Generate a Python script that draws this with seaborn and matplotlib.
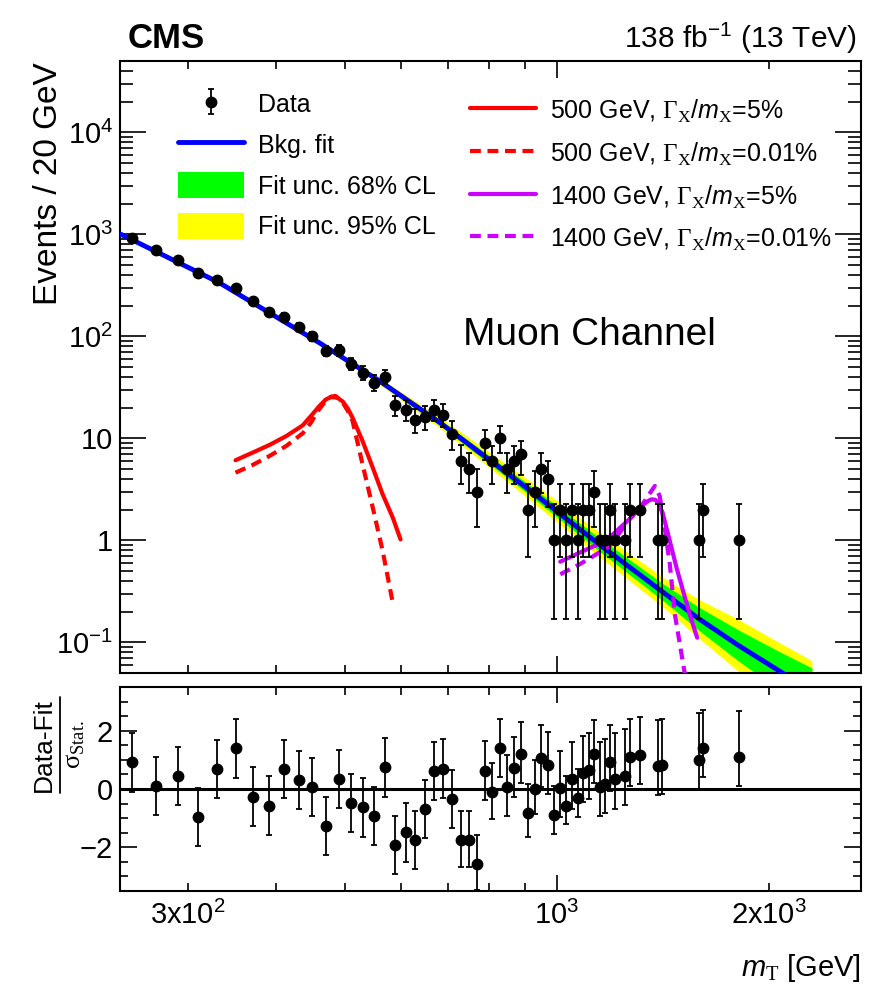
import numpy as np
import matplotlib
matplotlib.use("Agg")
import matplotlib.pyplot as plt
import seaborn as sns
from matplotlib.ticker import FixedLocator, FuncFormatter, LogLocator, MultipleLocator, NullFormatter
from matplotlib.patches import Patch
from matplotlib.lines import Line2D

# ---------------- data ----------------
mt = [250, 270, 290, 310, 330, 350, 370, 390, 410, 430, 450, 470, 490, 510, 530, 550, 570, 590, 610,
      630, 650, 670, 690, 710, 730, 750, 770, 790, 810, 830, 850, 870, 890, 910, 930, 950, 970, 990,
      1010, 1030, 1050, 1070, 1090, 1110, 1130, 1150, 1170, 1190, 1210,
      1250, 1270, 1310, 1390, 1410, 1590, 1610, 1810]
counts = [930, 700, 555, 420, 355, 300, 220, 173, 155, 123, 100, 72, 73, 54, 44, 35, 40, 21, 19,
          15, 16, 19, 17, 11, 6, 5, 3, 9, 6, 10, 5, 6, 7, 2, 3, 5, 4, 1,
          2, 1, 2, 1, 2, 2, 3, 1, 1, 2, 1,
          1, 2, 2, 1, 1, 1, 2, 1]
err_lo = [30, 26, 24, 20, 19, 17, 15, 13, 12, 11, 10, 8.5, 8.5, 7.3, 6.6, 5.9, 6.3, 4.5, 4.3,
          3.8, 4.0, 4.3, 4.1, 3.3, 2.4, 2.1, 1.65, 2.9, 2.4, 2.8, 2.1, 2.4, 2.6, 1.31, 1.65, 2.1, 1.9, 0.83,
          1.31, 0.83, 1.31, 0.83, 1.31, 1.31, 1.65, 0.83, 0.83, 1.31, 0.83,
          0.83, 1.31, 1.31, 0.83, 0.83, 0.83, 1.31, 0.83]
err_hi = [30, 27, 24, 21, 19, 18, 15, 14, 13, 12, 11, 9, 9, 7.8, 7.1, 6.4, 6.8, 5.0, 4.8,
          4.3, 4.5, 4.8, 4.6, 3.8, 2.5, 2.2, 1.95, 3.0, 2.4, 3.1, 2.2, 2.4, 2.5, 1.55, 1.8, 2.2, 2.0, 1.25,
          1.55, 1.25, 1.55, 1.25, 1.55, 1.55, 1.8, 1.25, 1.25, 1.55, 1.25,
          1.25, 1.55, 1.55, 1.25, 1.25, 1.25, 1.55, 1.25]

pull = [0.91, 0.10, 0.45, -0.95, 0.68, 1.39, -0.26, -0.57, 0.68, 0.30, 0.08, -1.26, 0.34, -0.47, -0.63,
        -0.92, 0.74, -1.91, -1.49, -1.76, -0.69, 0.62, 0.70, -0.35, -1.76, -1.76, -2.59, 0.63, -0.11,
        1.40, 0.06, 0.71, 1.21, -0.84, -0.01, 1.06, 0.83, -0.90,
        0.05, -0.57, 0.33, -0.32, 0.54, 0.66, 1.21, 0.06, 0.17, 0.94, 0.33,
        0.46, 1.11, 1.17, 0.79, 0.83, 1.00, 1.42, 1.09]
pull_lo = [1] * 24 + [0.92, 0.92, 0.87, 1, 0.92, 1, 1, 1, 1, 0.80, 0.86, 1, 1, 0.63,
                      1, 0.64, 1, 0.63, 1, 1, 1, 1, 1, 1, 1,
                      1, 1, 1, 1, 1, 1, 1, 1]
pull_hi = [1] * 30 + [1.11, 1.09, 1.08, 1, 1, 1.13, 1.13, 1,
                      1.26, 1, 1.28, 1, 1.29, 1.26, 1.17, 1.55, 1.55, 1.26, 1.59,
                      1.60, 1.29, 1.29, 1.59, 1.58, 1.61, 1.28, 1.60]

# background fit and its uncertainty bands (multiplicative half-widths)
fit_m = [240, 332, 460, 560, 681, 915, 1137, 1414, 1590, 1810, 2071, 2300]
fit_v = [1010, 335, 86.6, 36.5, 14.4, 3.1, 0.96, 0.31, 0.17, 0.093, 0.052, 0.033]
band68 = [1.01, 1.02, 1.03, 1.05, 1.07, 1.12, 1.16, 1.21, 1.30, 1.42, 1.55, 1.70]
band95 = [1.02, 1.03, 1.05, 1.08, 1.13, 1.24, 1.32, 1.40, 1.55, 1.80, 1.90, 2.00]

# signal shapes
s500w_m = [350, 370, 391, 413, 436, 448, 460, 470, 478, 488, 497, 505, 513, 530, 548, 566, 585, 600]
s500w_v = [6.09, 7.23, 8.60, 10.5, 13.4, 16.6, 20.6, 24.0, 25.4, 25.0, 22.9, 19.6, 15.9, 9.41, 5.15,
           2.82, 1.67, 1.02]
s500n_m = [350, 370, 391, 413, 436, 448, 458, 470, 478, 485, 495, 505, 513, 530, 548, 566, 585]
s500n_v = [4.6, 5.47, 6.7, 8.4, 11.2, 14.3, 18.5, 23.3, 25.6, 26.0, 23.4, 18.6, 14.8, 5.56, 2.09,
           0.785, 0.244]
s1400w_m = [1011, 1077, 1138, 1201, 1268, 1300, 1325, 1345, 1362, 1378, 1392, 1414, 1446, 1478, 1510,
            1543, 1581]
s1400w_v = [0.617, 0.756, 0.90, 1.145, 1.62, 1.95, 2.22, 2.42, 2.52, 2.50, 2.34, 1.80, 0.984, 0.539,
            0.318, 0.188, 0.111]
s1400n_m = [1011, 1077, 1138, 1188, 1268, 1325, 1355, 1377, 1399, 1422, 1446, 1470, 1519]
s1400n_v = [0.464, 0.582, 0.73, 0.879, 1.60, 2.30, 2.90, 3.41, 2.72, 1.33, 0.582, 0.188, 0.0485]

# ---------------- style ----------------
sns.set_theme(style="ticks")
plt.rcParams.update({
    "font.family": ["Liberation Sans", "DejaVu Sans"],
    "mathtext.fontset": "custom",
    "mathtext.rm": "Liberation Serif",
    "mathtext.it": "Liberation Sans:italic",
    "mathtext.bf": "Liberation Sans:bold",
    "mathtext.default": "regular",
    "axes.linewidth": 1.5,
    "axes.edgecolor": "black",
    "xtick.direction": "in",
    "ytick.direction": "in",
    "xtick.top": True,
    "ytick.right": True,
    "xtick.color": "black",
    "ytick.color": "black",
    "text.color": "black",
    "axes.labelcolor": "black",
})

W, H = 876, 991
fig = plt.figure(figsize=(W / 100, H / 100), dpi=100)
ax = fig.add_axes([120 / W, 1 - 673 / H, 741 / W, 612 / H])
ax2 = fig.add_axes([120 / W, 1 - 891 / H, 741 / W, 204 / H])

BLUE, GREEN, YELLOW = "#0000ff", "#00ff00", "#ffff00"
RED, VIOL = "#ff0000", "#cc00ff"

for a in (ax, ax2):
    a.set_xscale("log")
    a.set_xlim(240, 2700)
ax.set_yscale("log")
ax.set_ylim(0.05, 5e4)
ax2.set_ylim(-3.5, 3.5)

# ---------------- top panel ----------------
fm = np.array(fit_m, float)
fv = np.array(fit_v, float)
ax.fill_between(fm, fv / np.array(band95), fv * np.array(band95), color=YELLOW, lw=0, zorder=1)
ax.fill_between(fm, fv / np.array(band68), fv * np.array(band68), color=GREEN, lw=0, zorder=2)
sns.lineplot(x=fit_m, y=fit_v, color=BLUE, lw=3.5, ax=ax, sort=False, estimator=None, zorder=3)

def sig(m, v, color, dashed):
    sns.lineplot(x=m, y=v, color=color, lw=3.0, ax=ax, sort=False, estimator=None, zorder=4)
    ln = ax.lines[-1]
    ln.set_solid_joinstyle("round")
    if dashed:
        ln.set_dashes((2.6, 1.6))
    return ln

sig(s500w_m, s500w_v, RED, False)
sig(s500n_m, s500n_v, RED, True)
sig(s1400w_m, s1400w_v, VIOL, False)
sig(s1400n_m, s1400n_v, VIOL, True)

eb = ax.errorbar(mt, counts, yerr=[err_lo, err_hi], fmt="o", color="black", ms=7.5,
                 elinewidth=1.3, capsize=2.5, capthick=1.3, zorder=6)

# ticks top
ax.xaxis.set_major_locator(FixedLocator([1000]))
ax.xaxis.set_minor_locator(FixedLocator([300, 400, 500, 600, 700, 800, 900, 2000]))
ax.xaxis.set_major_formatter(NullFormatter())
ax.xaxis.set_minor_formatter(NullFormatter())
ax.yaxis.set_major_locator(LogLocator(base=10, numticks=20))
ax.yaxis.set_minor_locator(LogLocator(base=10, subs=np.arange(2, 10), numticks=20))
ax.yaxis.set_minor_formatter(NullFormatter())

def yfmt(v, pos):
    e = int(round(np.log10(v)))
    if e == 0:
        return "1"
    if e == 1:
        return "10"
    return r"$10^{%d}$" % e

ax.yaxis.set_major_formatter(FuncFormatter(yfmt))
ax.tick_params(axis="y", which="major", length=18.5, width=1.2, labelsize=21, pad=5)
ax.tick_params(axis="y", which="minor", length=9.4, width=1.2)
ax.tick_params(axis="x", which="major", length=12.2, width=1.2)
ax.tick_params(axis="x", which="minor", length=5.8, width=1.2)

ax.set_ylabel("Events / 20 GeV", fontsize=24, va="center")
ax.yaxis.set_label_coords(-0.097, 0.80)

ax.text(0.633, 0.552, "Muon Channel", transform=ax.transAxes, fontsize=28,
        ha="center", va="center")

# legends
h1 = [eb, Line2D([], [], color=BLUE, lw=3.5),
      Patch(facecolor=GREEN, edgecolor="none"), Patch(facecolor=YELLOW, edgecolor="none")]
l1 = ["Data", "Bkg. fit", "Fit unc. 68% CL", "Fit unc. 95% CL"]
leg1 = ax.legend(h1, l1, loc="upper left", bbox_to_anchor=(0.078, 0.951), frameon=False,
                 fontsize=18, handlelength=2.64, handleheight=1.2, handletextpad=0.56,
                 labelspacing=0.58, borderpad=0, borderaxespad=0)
ax.add_artist(leg1)

GX = r"$\mathrm{\Gamma}_{\mathrm{X}}/\mathit{m}_{\mathrm{X}}$"
h2 = [Line2D([], [], color=RED, lw=3.0),
      Line2D([], [], color=RED, lw=3.0, dashes=(2.6, 1.6)),
      Line2D([], [], color=VIOL, lw=3.0),
      Line2D([], [], color=VIOL, lw=3.0, dashes=(2.6, 1.6))]
l2 = ["500 GeV, " + GX + "=5%", "500 GeV, " + GX + "=0.01%",
      "1400 GeV, " + GX + "=5%", "1400 GeV, " + GX + "=0.01%"]
ax.legend(h2, l2, loc="upper left", bbox_to_anchor=(0.472, 0.940), frameon=False,
          fontsize=18, handlelength=2.64, handleheight=1.2, handletextpad=0.56,
          labelspacing=0.61, borderpad=0, borderaxespad=0)

fig.text(128 / W, 1 - 38 / H, "CMS", fontsize=25, fontweight="bold", ha="left", va="center")
fig.text(857 / W, 1 - 38 / H, r"138 fb$^{-1}$ (13 TeV)", fontsize=21.5, ha="right", va="center")

# ---------------- bottom panel ----------------
ax2.axhline(0, color="black", lw=2.2, zorder=2)
ax2.errorbar(mt, pull, yerr=[pull_lo, pull_hi], fmt="o", color="black", ms=7.5,
             elinewidth=1.3, capsize=2.5, capthick=1.3, zorder=5)

ax2.xaxis.set_major_locator(FixedLocator([1000]))
ax2.xaxis.set_minor_locator(FixedLocator([300, 400, 500, 600, 700, 800, 900, 2000]))
ax2.xaxis.set_major_formatter(FuncFormatter(lambda v, p: r"$10^{3}$"))
xl = {300: r"3x$10^{2}$", 2000: r"2x$10^{3}$"}
ax2.xaxis.set_minor_formatter(FuncFormatter(lambda v, p: xl.get(int(round(v)), "")))
ax2.yaxis.set_major_locator(FixedLocator([-2, 0, 2]))
ax2.yaxis.set_minor_locator(MultipleLocator(0.5))
ax2.tick_params(axis="x", which="major", length=11.5, width=1.2, labelsize=21, pad=7)
ax2.tick_params(axis="x", which="minor", length=5.8, width=1.2, labelsize=21, pad=7)
ax2.tick_params(axis="y", which="major", length=12.2, width=1.2, labelsize=21, pad=5)
ax2.tick_params(axis="y", which="minor", length=5.8, width=1.2)

# y title of the pull panel: a fraction built from two rotated texts and a bar
fig.text(44 / W, 1 - 745 / H, "Data-Fit", rotation=90, fontsize=19, ha="center", va="center")
fig.add_artist(Line2D([60 / W, 60 / W], [1 - 697 / H, 1 - 793 / H], transform=fig.transFigure,
                      color="black", lw=1.3))
fig.text(75 / W, 1 - 745 / H, r"$\mathrm{\sigma}_{\mathrm{Stat.}}$", rotation=90, fontsize=19,
         ha="center", va="center")

ax2.set_xlabel(r"$\mathit{m}_{\mathrm{T}}$ [GeV]", fontsize=21, ha="right", va="center")
ax2.xaxis.set_label_coords(1.0, -0.377)

fig.savefig("out.png", dpi=100)
